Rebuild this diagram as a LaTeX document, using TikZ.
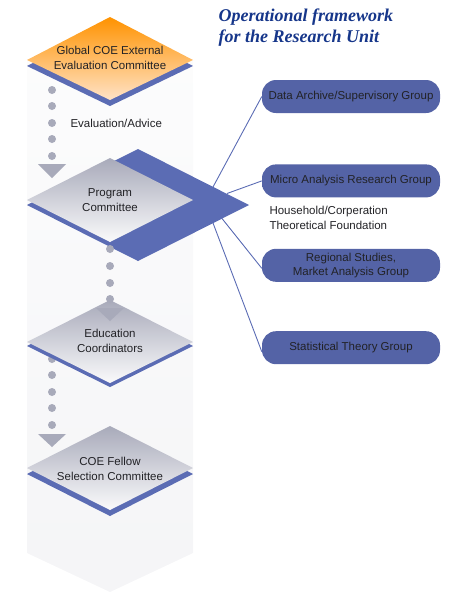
\documentclass[tikz,border=0pt]{standalone}
\usepackage{fontspec}
\setmainfont{Liberation Sans}
\newfontfamily\titlefont{Liberation Serif}
\usepackage{tikz}
\usetikzlibrary{positioning, calc, shapes}
\definecolor{unitblue}{RGB}{91,108,180}
\definecolor{titleblue}{RGB}{22,54,138}
\definecolor{dotgray}{RGB}{168,170,186}
\definecolor{inkgray}{RGB}{34,34,38}
\tikzset{
group/.style={
  rectangle,
  rounded corners=14pt,
  minimum width=178pt,
  minimum height=33pt,
  inner sep=2pt,
  align=center,
  text=inkgray,
  top color=unitblue!92!black,
  middle color=unitblue!62!white,
  bottom color=unitblue!92!black,
  font=\fontsize{11.5}{14}\selectfont
 },
label/.style={text=inkgray, font=\fontsize{11.5}{15.5}\selectfont, align=center},
link/.style={draw=unitblue, line width=0.9pt}
}

\begin{document}
\begin{tikzpicture}[x=1pt,y=-1pt,
committee/.style={top color=dotgray, bottom color=white!94!dotgray},
band/.style={fill=unitblue},
dot/.style={fill=dotgray}]
 \useasboundingbox (0,0) rectangle (462,600);

 % column behind the committees
 \shade[top color=white!97!dotgray, bottom color=white!88!dotgray]
  (27,60) -- (110,18) -- (193,60) -- (193,553) -- (110,592) -- (27,553) -- cycle;

 % external evaluation
 \fill[band] (27,66) -- (110,24) -- (193,66) -- (110,106) -- cycle;
 \shade[top color=orange!85!yellow, bottom color=orange!22!white]
  (27,60) -- (110,17) -- (193,60) -- (110,100) -- cycle;
 \node[label] (ext) at (110,58) {Global COE External\\Evaluation Committee};

 \foreach \Y in {90,106,123,139,156}
 {\fill[dot] (52,\Y) circle (4);}
 \fill[dot] (38,164) -- (66,164) -- (52,178) -- cycle;
 \node[label, anchor=west] (advice) at (67,123) {Evaluation/Advice};

 % program committee
 \fill[band] (27,205) -- (138,149) -- (249,205) -- (138,261) -- cycle;
 \shade[committee] (27,200) -- (110,158) -- (193,200) -- (110,242) -- cycle;
 \node[label] (prog) at (110,200) {Program\\Committee};
 \coordinate (P1) at (213,187);
 \coordinate (P2) at (227,193.5);
 \coordinate (P3) at (222,218.5);
 \coordinate (P4) at (213,223);

 % education coordinators
 \foreach \Y in {359,375,392,408,425}
 {\fill[dot] (52,\Y) circle (4);}
 \fill[band] (27,346) -- (110,304) -- (193,346) -- (110,387) -- cycle;
 \shade[committee] (27,342) -- (110,300) -- (193,342) -- (110,383) -- cycle;
 \foreach \Y in {249,266,283,299}
 {\fill[dot] (110,\Y) circle (4);}
 \fill[dot] (96,308) -- (124,308) -- (110,321) -- cycle;
 \node[label] (edu) at (110,341) {Education\\Coordinators};

 % fellow selection
 \fill[dot] (38,434) -- (66,434) -- (52,447) -- cycle;
 \fill[band] (27,474) -- (110,432) -- (193,474) -- (110,516) -- cycle;
 \shade[committee] (27,468) -- (110,426) -- (193,468) -- (110,510) -- cycle;
 \node[label] (fellow) at (110,469) {COE Fellow\\Selection Committee};

 % research groups
 \begin{scope}[node distance=51pt]
 \node[group] (data) at (351,96.5) {Data Archive/Supervisory Group};
 \node[group, below=of data] (micro) {Micro Analysis Research Group};
 \node[group, below=of micro] (region) {Regional Studies,\\Market Analysis Group};
 \node[group, below=49pt of region] (stat) {Statistical Theory Group};
 \end{scope}
 \node[label, align=left, anchor=west] (found) at (266,218)
  {Household/Corperation\\Theoretical Foundation};

 \draw[link] (P1) -- (data.west);
 \draw[link] (P2) -- (micro.west);
 \draw[link] (P3) -- ([yshift=-3pt]region.west);
 \draw[link] (P4) -- ([yshift=-4pt]stat.west);

 \node[anchor=north west, align=left, text=titleblue,
  font=\titlefont\bfseries\itshape\fontsize{18}{21}\selectfont] (title) at (215,5)
  {Operational framework\\for the Research Unit};
\end{tikzpicture}
\end{document}
